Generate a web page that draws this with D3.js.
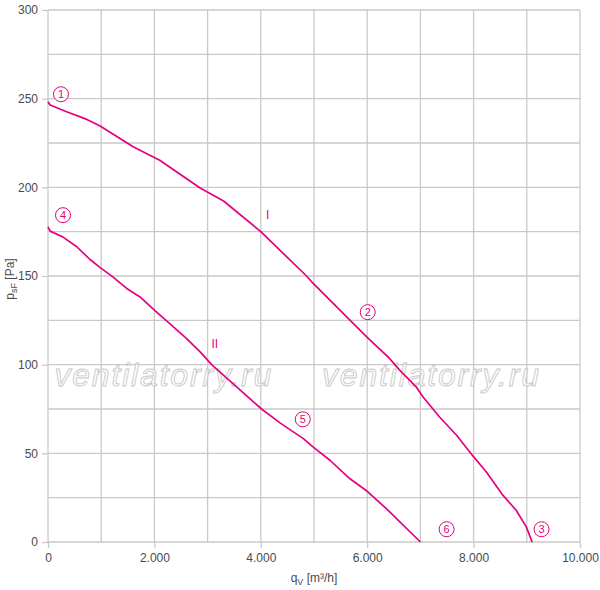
<!DOCTYPE html>
<html>
<head>
<meta charset="utf-8">
<script src="https://cdn.jsdelivr.net/npm/d3@7"></script>
<style>
  body { margin: 0; background: #fff; }
  text { font-family: "Liberation Sans", Arial, sans-serif; }
</style>
</head>
<body>
<svg id="chart"></svg>
<script>
// curve I (upper)
const qI = [0, 40, 350, 730, 980, 1600, 2100, 2860, 3300, 4000, 4860, 4985, 5990, 6420, 6610, 6920, 7050, 7360, 7680, 7990, 8240, 8550, 8800, 8990, 9100];
const pI = [248.3, 246.4, 242.6, 238.3, 234.6, 222.9, 215.3, 199.6, 192.3, 175, 150, 145.8, 115.7, 103.5, 96.9, 87.5, 81.8, 70.5, 60.2, 48.4, 39.5, 26.4, 17.9, 8.5, 0];

// curve II (lower)
const qII = [0, 40, 290, 540, 790, 1000, 1200, 1480, 1730, 2000, 2230, 2600, 2860, 3075, 4015, 4360, 4800, 4980, 5300, 5670, 6000, 6360, 7000];
const pII = [177.7, 175.3, 171.8, 166.5, 159.3, 154.3, 149.9, 143, 138.2, 130.7, 124.7, 114.8, 107.2, 100, 75, 67.2, 58.3, 53.6, 46.1, 35.8, 28.6, 18.8, 0];

const xTicks = [0, 2000, 4000, 6000, 8000, 10000];
const yTicks = [0, 50, 100, 150, 200, 250, 300];
const xTickLabels = ['0', '2.000', '4.000', '6.000', '8.000', '10.000'];

// circled point markers and curve names
const markerText = ['1', '2', '3', '4', '5', '6'];
const markerQ = [244, 6010, 9277, 282, 4789, 7493];
const markerP = [252.5, 129.6, 7.2, 184.3, 69.2, 7.2];
const curveNames = ['I', 'II'];
const nameQ = [4131, 3136];
const nameP = [184.3, 112];

const svgWidth = 600;
const svgHeight = 590;
const margin = { top: 10, left: 48, right: 20, bottom: 48 };
const width = svgWidth - margin.left - margin.right;
const height = svgHeight - margin.top - margin.bottom;
const pink = '#e5007d';
const gridColor = '#c9c9c9';
const textColor = '#4a4a4a';

const svg = d3.select('#chart')
  .attr('width', svgWidth)
  .attr('height', svgHeight);

const g = svg.append('g')
  .attr('transform', `translate(${margin.left}, ${margin.top})`);

const xScale = d3.scaleLinear().domain([0, 10000]).range([0, width]);
const yScale = d3.scaleLinear().domain([0, 300]).range([height, 0]);

// grid
g.append('g')
  .selectAll('line')
  .data(d3.range(0, 10001, 1000))
  .join('line')
  .attr('x1', d => xScale(d)).attr('x2', d => xScale(d))
  .attr('y1', 0).attr('y2', height)
  .attr('stroke', gridColor).attr('stroke-width', 1.3);

g.append('g')
  .selectAll('line')
  .data(d3.range(0, 301, 25))
  .join('line')
  .attr('x1', 0).attr('x2', width)
  .attr('y1', d => yScale(d)).attr('y2', d => yScale(d))
  .attr('stroke', gridColor).attr('stroke-width', 1.3);

// axes
const xAxis = g.append('g')
  .attr('transform', `translate(0, ${height})`)
  .call(d3.axisBottom(xScale).tickValues(xTicks).tickSize(6).tickPadding(5)
    .tickFormat((d, i) => xTickLabels[i]));

const yAxis = g.append('g')
  .call(d3.axisLeft(yScale).tickValues(yTicks).tickSize(6).tickPadding(3));

[xAxis, yAxis].forEach(a => {
  a.select('.domain').remove();
  a.selectAll('line').attr('stroke', gridColor).attr('stroke-width', 1.3);
  a.selectAll('text')
    .attr('fill', textColor)
    .style('font-size', '12px')
    .style('font-family', '"Liberation Sans", Arial, sans-serif');
});
yAxis.selectAll('text').attr('dx', '-1');

// watermark
[0.012, 0.515].forEach(f => {
  g.append('text')
    .attr('x', width * f)
    .attr('y', yScale(88))
    .attr('fill', '#fff')
    .attr('fill-opacity', 0.6)
    .attr('stroke', '#c8c8c8')
    .attr('stroke-width', 0.9)
    .style('font-size', '32px')
    .style('font-style', 'italic')
    .style('font-family', '"Liberation Sans", Arial, sans-serif')
    .attr('textLength', 217)
    .text('ventilatorry.ru');
});

// curves
const line = d3.line()
  .x(d => xScale(d[0]))
  .y(d => yScale(d[1]));

[[qI, pI], [qII, pII]].forEach(([q, p]) => {
  g.append('path')
    .datum(q.map((v, i) => [v, p[i]]))
    .attr('fill', 'none')
    .attr('stroke', pink)
    .attr('stroke-width', 1.7)
    .attr('stroke-linejoin', 'round')
    .attr('d', line);
});

// circled markers
const markers = g.append('g')
  .selectAll('g')
  .data(markerText)
  .join('g')
  .attr('transform', (d, i) => `translate(${xScale(markerQ[i])}, ${yScale(markerP[i])})`);

markers.append('circle')
  .attr('r', 7.5)
  .attr('fill', '#fff')
  .attr('stroke', pink)
  .attr('stroke-width', 1);

markers.append('text')
  .attr('text-anchor', 'middle')
  .attr('dy', '0.36em')
  .attr('fill', pink)
  .style('font-size', '11px')
  .text(d => d);

g.append('g')
  .selectAll('text')
  .data(curveNames)
  .join('text')
  .attr('x', (d, i) => xScale(nameQ[i]))
  .attr('y', (d, i) => yScale(nameP[i]))
  .attr('dy', '0.36em')
  .attr('text-anchor', 'middle')
  .attr('fill', pink)
  .style('font-size', '12px')
  .text(d => d);

// axis titles
const xTitle = svg.append('text')
  .attr('x', margin.left + width / 2)
  .attr('y', 582)
  .attr('text-anchor', 'middle')
  .attr('fill', textColor)
  .style('font-size', '12px');
xTitle.append('tspan').text('q');
xTitle.append('tspan').attr('dy', 3).style('font-size', '9px').text('V');
xTitle.append('tspan').attr('dy', -3).text(' [m³/h]');

const yTitle = svg.append('text')
  .attr('transform', `translate(14, ${margin.top + yScale(150) + 3}) rotate(-90)`)
  .attr('text-anchor', 'middle')
  .attr('fill', textColor)
  .style('font-size', '12px');
yTitle.append('tspan').text('p');
yTitle.append('tspan').attr('dy', 3).style('font-size', '9px').text('sF');
yTitle.append('tspan').attr('dy', -3).text(' [Pa]');
</script>
</body>
</html>
